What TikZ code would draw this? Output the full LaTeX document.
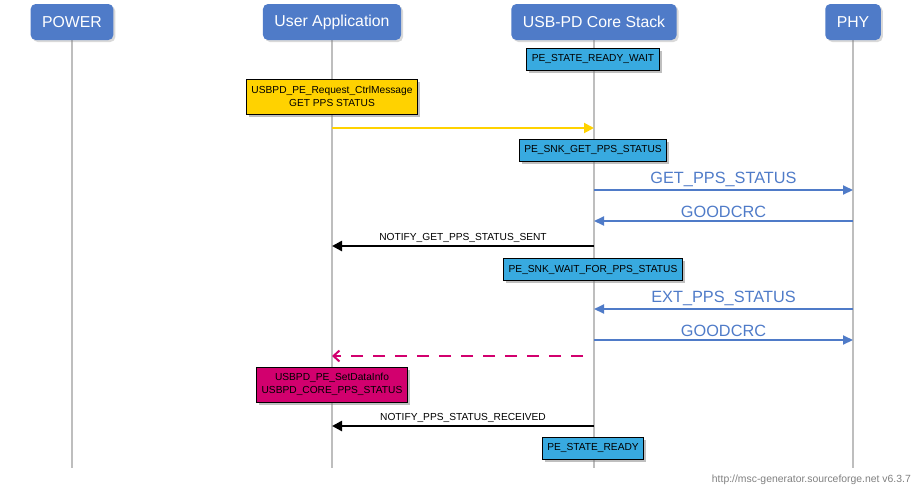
\documentclass[tikz,border=0pt]{standalone}
\usepackage{fontspec}
\setmainfont{Liberation Sans}
\usetikzlibrary{arrows.meta,shadows}
\definecolor{hdrblue}{HTML}{4F7BC8}
\definecolor{stblue}{HTML}{38AAE0}
\definecolor{callyel}{HTML}{FFD200}
\definecolor{callmag}{HTML}{D2006E}
\definecolor{lifegray}{HTML}{BEBEBE}
\tikzset{hdr/.style={fill=hdrblue, rounded corners=5pt, text=white, font=\fontsize{15.8}{18}\selectfont, minimum height=36pt, inner xsep=11.5pt, drop shadow={shadow xshift=2pt,shadow yshift=-2pt,opacity=0.3}},
state/.style={draw=black, fill=stblue, font=\fontsize{10.2}{12.7}\selectfont, minimum height=22pt, inner xsep=5pt, line width=0.8pt, drop shadow={shadow xshift=2.5pt,shadow yshift=-2.5pt,opacity=0.5}},
call/.style={state, align=center, minimum height=35pt},
life/.style={lifegray, line width=2pt},
sig/.style={hdrblue, line width=2pt, -{Triangle[length=10pt,width=9pt]}},
siglab/.style={text=hdrblue, font=\fontsize{16.3}{18}\selectfont, above, inner sep=2pt},
ntf/.style={line width=2.5pt, -{Triangle[length=10pt,width=10pt]}},
ntflab/.style={font=\fontsize{10.2}{12}\selectfont, above, inner sep=2.5pt}}

\begin{document}
\begin{tikzpicture}[x=1pt,y=-1pt]
\useasboundingbox (0,0) rectangle (913,488);
% lifelines
\foreach \n/\x/\t in {pow/72/POWER,app/332/User Application,core/594/USB-PD Core Stack,phy/853/PHY}
{
\coordinate (\n-e) at (\x,468);
\draw[life] (\x,40)--(\n-e);
\node[hdr] (\n) at (\x,22) {\t};
}

\node[state] (rdywait) at (593,59) {PE\_STATE\_READY\_WAIT};
\node[call, fill=callyel] (reqctrl) at (332,96.5) {USBPD\_PE\_Request\_CtrlMessage\\GET PPS STATUS};

\coordinate (app1) at (332,128); \coordinate (core1) at (594,128);
\draw[callyel, line width=2pt, -{Triangle[length=10pt,width=10pt]}] (app1)--(core1);

\node[state] (snkget) at (593,150) {PE\_SNK\_GET\_PPS\_STATUS};

\coordinate (core2) at (594,190); \coordinate (phy2) at (853,190);
\draw[sig] (core2)--node[siglab]{GET\_PPS\_STATUS}(phy2);
\coordinate (core3) at (594,221); \coordinate (phy3) at (853,221);
\draw[sig] (phy3)--node[siglab]{GOODCRC}(core3);

\coordinate (core4) at (594,246); \coordinate (app4) at (332,246);
\draw[ntf] (core4)--node[ntflab]{NOTIFY\_GET\_PPS\_STATUS\_SENT}(app4);

\node[state] (snkwait) at (593,269.5) {PE\_SNK\_WAIT\_FOR\_PPS\_STATUS};

\coordinate (core5) at (594,309); \coordinate (phy5) at (853,309);
\draw[sig] (phy5)--node[siglab]{EXT\_PPS\_STATUS}(core5);
\coordinate (core6) at (594,340); \coordinate (phy6) at (853,340);
\draw[sig] (core6)--node[siglab]{GOODCRC}(phy6);

\coordinate (core7) at (583,356); \coordinate (app7) at (332,356);
\draw[callmag, line width=2pt, dash pattern=on 12pt off 10pt, -{Straight Barb[length=6pt,width=11pt]}] (core7)--(app7);

\node[call, fill=callmag] (setdata) at (332,384.5) {USBPD\_PE\_SetDataInfo\\USBPD\_CORE\_PPS\_STATUS};

\coordinate (core8) at (594,426); \coordinate (app8) at (332,426);
\draw[ntf] (core8)--node[ntflab]{NOTIFY\_PPS\_STATUS\_RECEIVED}(app8);

\node[state] (ready) at (593,448) {PE\_STATE\_READY};

\node[anchor=east, text=gray, font=\fontsize{10.4}{12}\selectfont, inner sep=1pt] (foot) at (912,480) {http://msc-generator.sourceforge.net v6.3.7};
\end{tikzpicture}
\end{document}
